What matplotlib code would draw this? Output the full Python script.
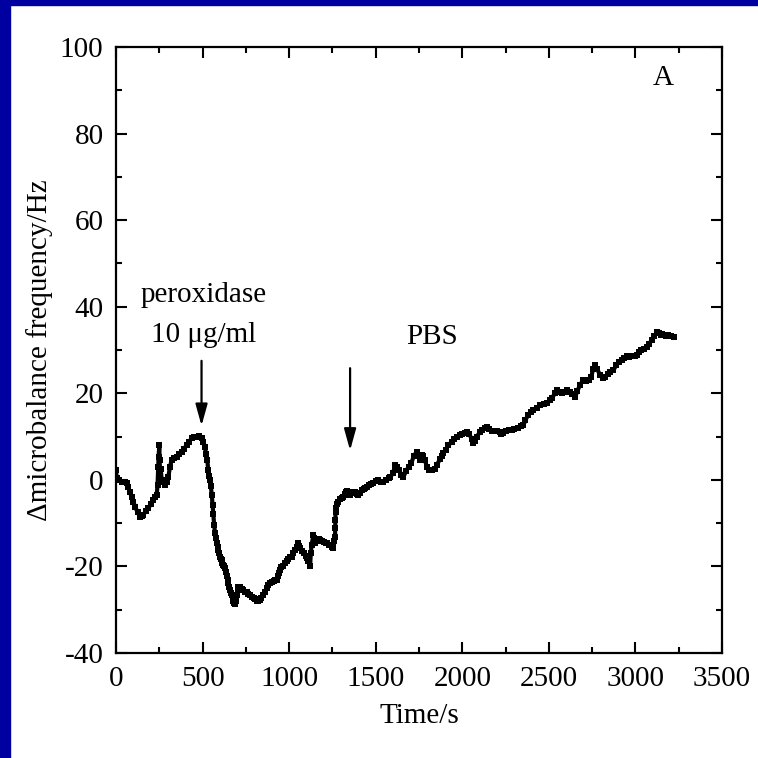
import matplotlib
matplotlib.use("Agg")
import matplotlib.pyplot as plt
from matplotlib.patches import Rectangle

plt.rcParams['font.family'] = ['Liberation Serif', 'DejaVu Serif']
plt.rcParams['axes.unicode_minus'] = False

time_s = [0, 4, 20, 33, 50, 62, 71, 80, 90, 100, 110, 125, 139, 150, 158, 172, 187, 200, 215, 225,
          235, 240, 244, 246, 250, 252, 254, 258, 264, 272, 283, 292, 302, 312, 321, 335, 350, 365,
          379, 393, 408, 422, 437, 450, 466, 480, 495, 505, 514, 520, 527, 533, 538, 543, 548, 553,
          558, 562, 567, 572, 577, 582, 587, 591, 596, 601, 605, 610, 615, 620, 625, 630, 635, 640,
          645, 649, 654, 659, 663, 668, 673, 678, 683, 688, 693, 698, 703, 707, 715, 725, 735, 745,
          755, 765, 775, 784, 795, 805, 815, 822, 830, 840, 851, 860, 870, 880, 890, 900, 910, 920,
          928, 935, 941, 947, 955, 965, 976, 985, 995, 1005, 1015, 1025, 1035, 1044, 1049, 1055,
          1062, 1072, 1085, 1095, 1101, 1110, 1121, 1125, 1130, 1140, 1145, 1150, 1160, 1170, 1179,
          1190, 1200, 1210, 1217, 1230, 1245, 1256, 1261, 1265, 1266, 1267, 1268, 1272, 1278, 1284,
          1295, 1305, 1313, 1320, 1328, 1335, 1342, 1350, 1360, 1371, 1380, 1390, 1400, 1410, 1420,
          1430, 1440, 1448, 1460, 1475, 1486, 1500, 1515, 1530, 1544, 1560, 1575, 1583, 1600, 1612,
          1621, 1635, 1648, 1660, 1675, 1690, 1705, 1720, 1737, 1745, 1755, 1765, 1775, 1785, 1795,
          1810, 1825, 1840, 1855, 1870, 1880, 1891, 1905, 1920, 1939, 1955, 1970, 1985, 2000, 2015,
          2026, 2040, 2055, 2064, 2074, 2085, 2100, 2115, 2130, 2141, 2155, 2170, 2185, 2200, 2215,
          2225, 2237, 2255, 2270, 2285, 2300, 2320, 2340, 2353, 2365, 2380, 2395, 2411, 2430, 2450,
          2470, 2490, 2507, 2520, 2535, 2546, 2560, 2575, 2590, 2604, 2620, 2635, 2652, 2665, 2680,
          2700, 2715, 2730, 2745, 2755, 2767, 2780, 2795, 2810, 2825, 2840, 2855, 2873, 2890, 2905,
          2920, 2935, 2950, 2965, 2980, 2995, 3008, 3020, 3035, 3050, 3065, 3080, 3095, 3110, 3123,
          3135, 3145, 3155, 3162, 3175, 3190, 3205, 3220]

freq_hz = [2.3, 0.4, 0.0, -0.4, -0.5, -0.8, -1.6, -2.8, -3.9, -5.0, -6.2, -7.5, -8.5, -8.4, -8.1, -7.2,
           -6.6, -5.6, -4.7, -4.0, -3.5, -1.2, 3.0, 5.3, 8.0, 4.5, 1.5, 2.5, 0.0, -0.5, -1.2, -0.5, 0.7,
           3.0, 4.6, 5.0, 5.3, 6.0, 6.5, 7.2, 8.0, 8.8, 9.6, 9.8, 10.0, 10.2, 9.6, 8.8, 7.5, 6.0, 4.6,
           2.3, 1.0, 0.0, -1.5, -3.5, -5.8, -8.0, -10.5, -12.3, -13.5, -14.5, -15.5, -16.2, -17.0,
           -17.8, -18.2, -18.5, -19.2, -19.6, -20.0, -20.4, -21.4, -22.3, -23.2, -23.9, -24.8, -25.5,
           -26.1, -26.6, -27.3, -28.0, -28.5, -28.7, -28.0, -26.5, -25.2, -24.7, -24.8, -25.1, -25.4,
           -25.8, -26.0, -26.4, -26.7, -27.0, -27.3, -27.6, -27.9, -28.1, -27.8, -27.2, -26.6, -25.8,
           -25.0, -24.3, -23.9, -23.6, -23.4, -23.2, -23.1, -22.2, -21.5, -20.8, -20.2, -19.8, -19.3,
           -18.7, -18.2, -17.8, -17.8, -17.0, -16.2, -15.4, -14.7, -15.2, -15.8, -16.4, -17.0, -17.6,
           -18.1, -18.8, -20.0, -17.0, -15.0, -12.7, -13.5, -14.7, -14.2, -13.6, -13.9, -14.2, -14.3,
           -14.5, -14.7, -15.0, -15.4, -15.8, -14.2, -13.1, -11.2, -9.3, -7.5, -6.4, -5.5, -5.0, -4.5,
           -4.2, -3.9, -3.3, -2.8, -2.6, -3.6, -3.4, -3.0, -2.7, -2.9, -3.3, -3.5, -3.0, -2.4, -2.0,
           -1.8, -1.6, -1.3, -1.0, -0.8, -0.2, 0.0, -0.4, -0.4, 0.0, 0.4, 0.7, 1.5, 3.5, 3.0, 2.3, 1.2,
           0.7, 2.0, 3.0, 3.8, 5.5, 6.5, 5.5, 4.5, 5.8, 5.5, 4.5, 3.0, 2.3, 2.2, 2.5, 3.5, 4.8, 5.5,
           6.1, 7.0, 8.0, 8.8, 9.5, 10.0, 10.4, 10.6, 10.8, 11.1, 10.5, 9.5, 8.4, 9.0, 10.0, 11.0, 11.5,
           12.0, 12.3, 11.8, 11.3, 11.3, 11.3, 11.0, 10.6, 10.8, 11.4, 11.5, 11.6, 11.8, 12.0, 12.4,
           12.6, 13.8, 15.0, 15.6, 16.1, 16.7, 17.2, 17.5, 17.8, 18.4, 19.0, 20.0, 20.8, 20.4, 20.0,
           20.4, 20.8, 20.4, 19.8, 19.2, 20.5, 22.0, 23.0, 22.8, 23.0, 23.8, 25.5, 26.5, 25.5, 24.3,
           23.5, 23.8, 24.5, 25.0, 25.4, 26.5, 27.2, 27.6, 28.2, 28.5, 28.3, 28.5, 28.6, 28.8, 29.6,
           30.0, 30.3, 30.8, 31.5, 32.3, 33.2, 34.2, 34.0, 33.4, 33.6, 33.5, 33.3, 33.5, 33.2, 33.1]

x_ticks = [0, 500, 1000, 1500, 2000, 2500, 3000, 3500]
y_ticks = [-40, -20, 0, 20, 40, 60, 80, 100]

annotations = [("peroxidase", 505, 42.7), ("10 μg/ml", 505, 33.5), ("PBS", 1824, 33.1), ("A", 3158, 92.8)]
arrows = [(494, 27.5, 12.5), (1352, 25.8, 6.8)]

fig = plt.figure(figsize=(7.58, 7.58), dpi=100)
fig.patches.append(Rectangle((0, 0), 10 / 758, 1, transform=fig.transFigure, color='#0000a0', zorder=0))
fig.patches.append(Rectangle((0, 1 - 5 / 758), 1, 5 / 758, transform=fig.transFigure, color='#0000a0', zorder=0))

ax = fig.add_axes([116 / 758, 1 - 653 / 758, 606 / 758, 606 / 758])
ax.plot(time_s, freq_hz, color='black', lw=3.0, marker='s', ms=3.8, mew=0)

ax.set_xlim(0, 3500)
ax.set_ylim(-40, 100)
ax.set_xticks(x_ticks)
ax.set_yticks(y_ticks)
ax.set_xticks([250 + 500 * i for i in range(7)], minor=True)
ax.set_yticks([-30 + 20 * i for i in range(7)], minor=True)
ax.tick_params(which='both', direction='in', top=True, right=True, width=1.5, labelsize=21)
ax.tick_params(which='major', length=8)
ax.tick_params(which='minor', length=4)
ax.tick_params(axis='y', pad=9)
ax.tick_params(axis='x', pad=9)
for s in ax.spines.values():
    s.set_linewidth(1.6)

ax.set_xlabel("Time/s", fontsize=21, labelpad=8)
ax.set_ylabel("Δmicrobalance frequency/Hz", fontsize=21, labelpad=5)

for txt, x, y in annotations:
    ax.text(x, y, txt, fontsize=21, ha='center', va='center')
for x, y0, y1 in arrows:
    ax.annotate("", xy=(x, y1), xytext=(x, y0),
                arrowprops=dict(arrowstyle='-|>,head_length=0.65,head_width=0.18', color='black',
                                lw=1.6, mutation_scale=20, shrinkA=0, shrinkB=0))

fig.savefig("out.png", dpi=100)
